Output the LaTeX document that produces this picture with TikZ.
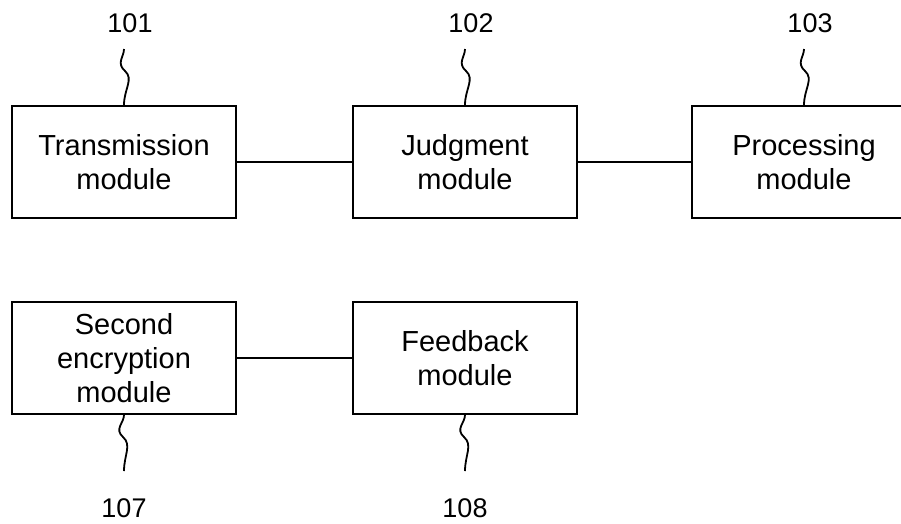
\documentclass[tikz,border=0pt]{standalone}
\usepackage{fontspec}
\setmainfont{Liberation Sans}
\usetikzlibrary{positioning}
\tikzset{module/.style={draw,line width=2pt,minimum width=224pt,minimum height=112pt,align=center,inner sep=0pt,font=\fontsize{29}{34}\selectfont}}
\tikzset{refnum/.style={font=\fontsize{27}{30}\selectfont,inner xsep=0pt,inner ysep=16pt}}
\tikzset{lead/.style={line width=1.8pt}}

\begin{document}
\begin{tikzpicture}[x=1pt,y=1pt,node distance=82pt and 115pt]
      \useasboundingbox (0,0) rectangle (901,-523);
      \node[module](Trans) at (124,-162){Transmission\\module};
      \node[module,right=of Trans](Judge){Judgment\\module};
      \node[module,right=113pt of Judge](Proc){Processing\\module};
      \node[module,below=of Trans](SecEnc){Second\\encryption\\module};
      \node[module,right=of SecEnc](Feedb){Feedback\\module};

      \node[refnum,above=56pt of Trans,xshift=6pt](n101){101};
      \node[refnum,above=56pt of Judge,xshift=6pt](n102){102};
      \node[refnum,above=56pt of Proc,xshift=6pt](n103){103};
      \node[refnum,below=56pt of SecEnc,inner ysep=27pt](n107){107};
      \node[refnum,below=56pt of Feedb,inner ysep=27pt](n108){108};

      \draw[lead] (Trans) -- (Judge) (Judge) -- (Proc) (SecEnc) -- (Feedb);

      \draw[lead] (Trans.north) .. controls +(0,16) and +(9,-8) .. ++(1,34) .. controls +(-9,8) and +(0,-8) .. (n101.south -| Trans.north);
      \draw[lead] (Judge.north) .. controls +(0,16) and +(9,-8) .. ++(1,34) .. controls +(-9,8) and +(0,-8) .. (n102.south -| Judge.north);
      \draw[lead] (Proc.north) .. controls +(0,16) and +(9,-8) .. ++(1,34) .. controls +(-9,8) and +(0,-8) .. (n103.south -| Proc.north);
      \draw[lead] (SecEnc.south) .. controls +(0,-8) and +(-9,8) .. ++(-1,-22) .. controls +(9,-8) and +(0,16) .. (n107.north);
      \draw[lead] (Feedb.south) .. controls +(0,-8) and +(-9,8) .. ++(-1,-22) .. controls +(9,-8) and +(0,16) .. (n108.north);
\end{tikzpicture}
\end{document}
